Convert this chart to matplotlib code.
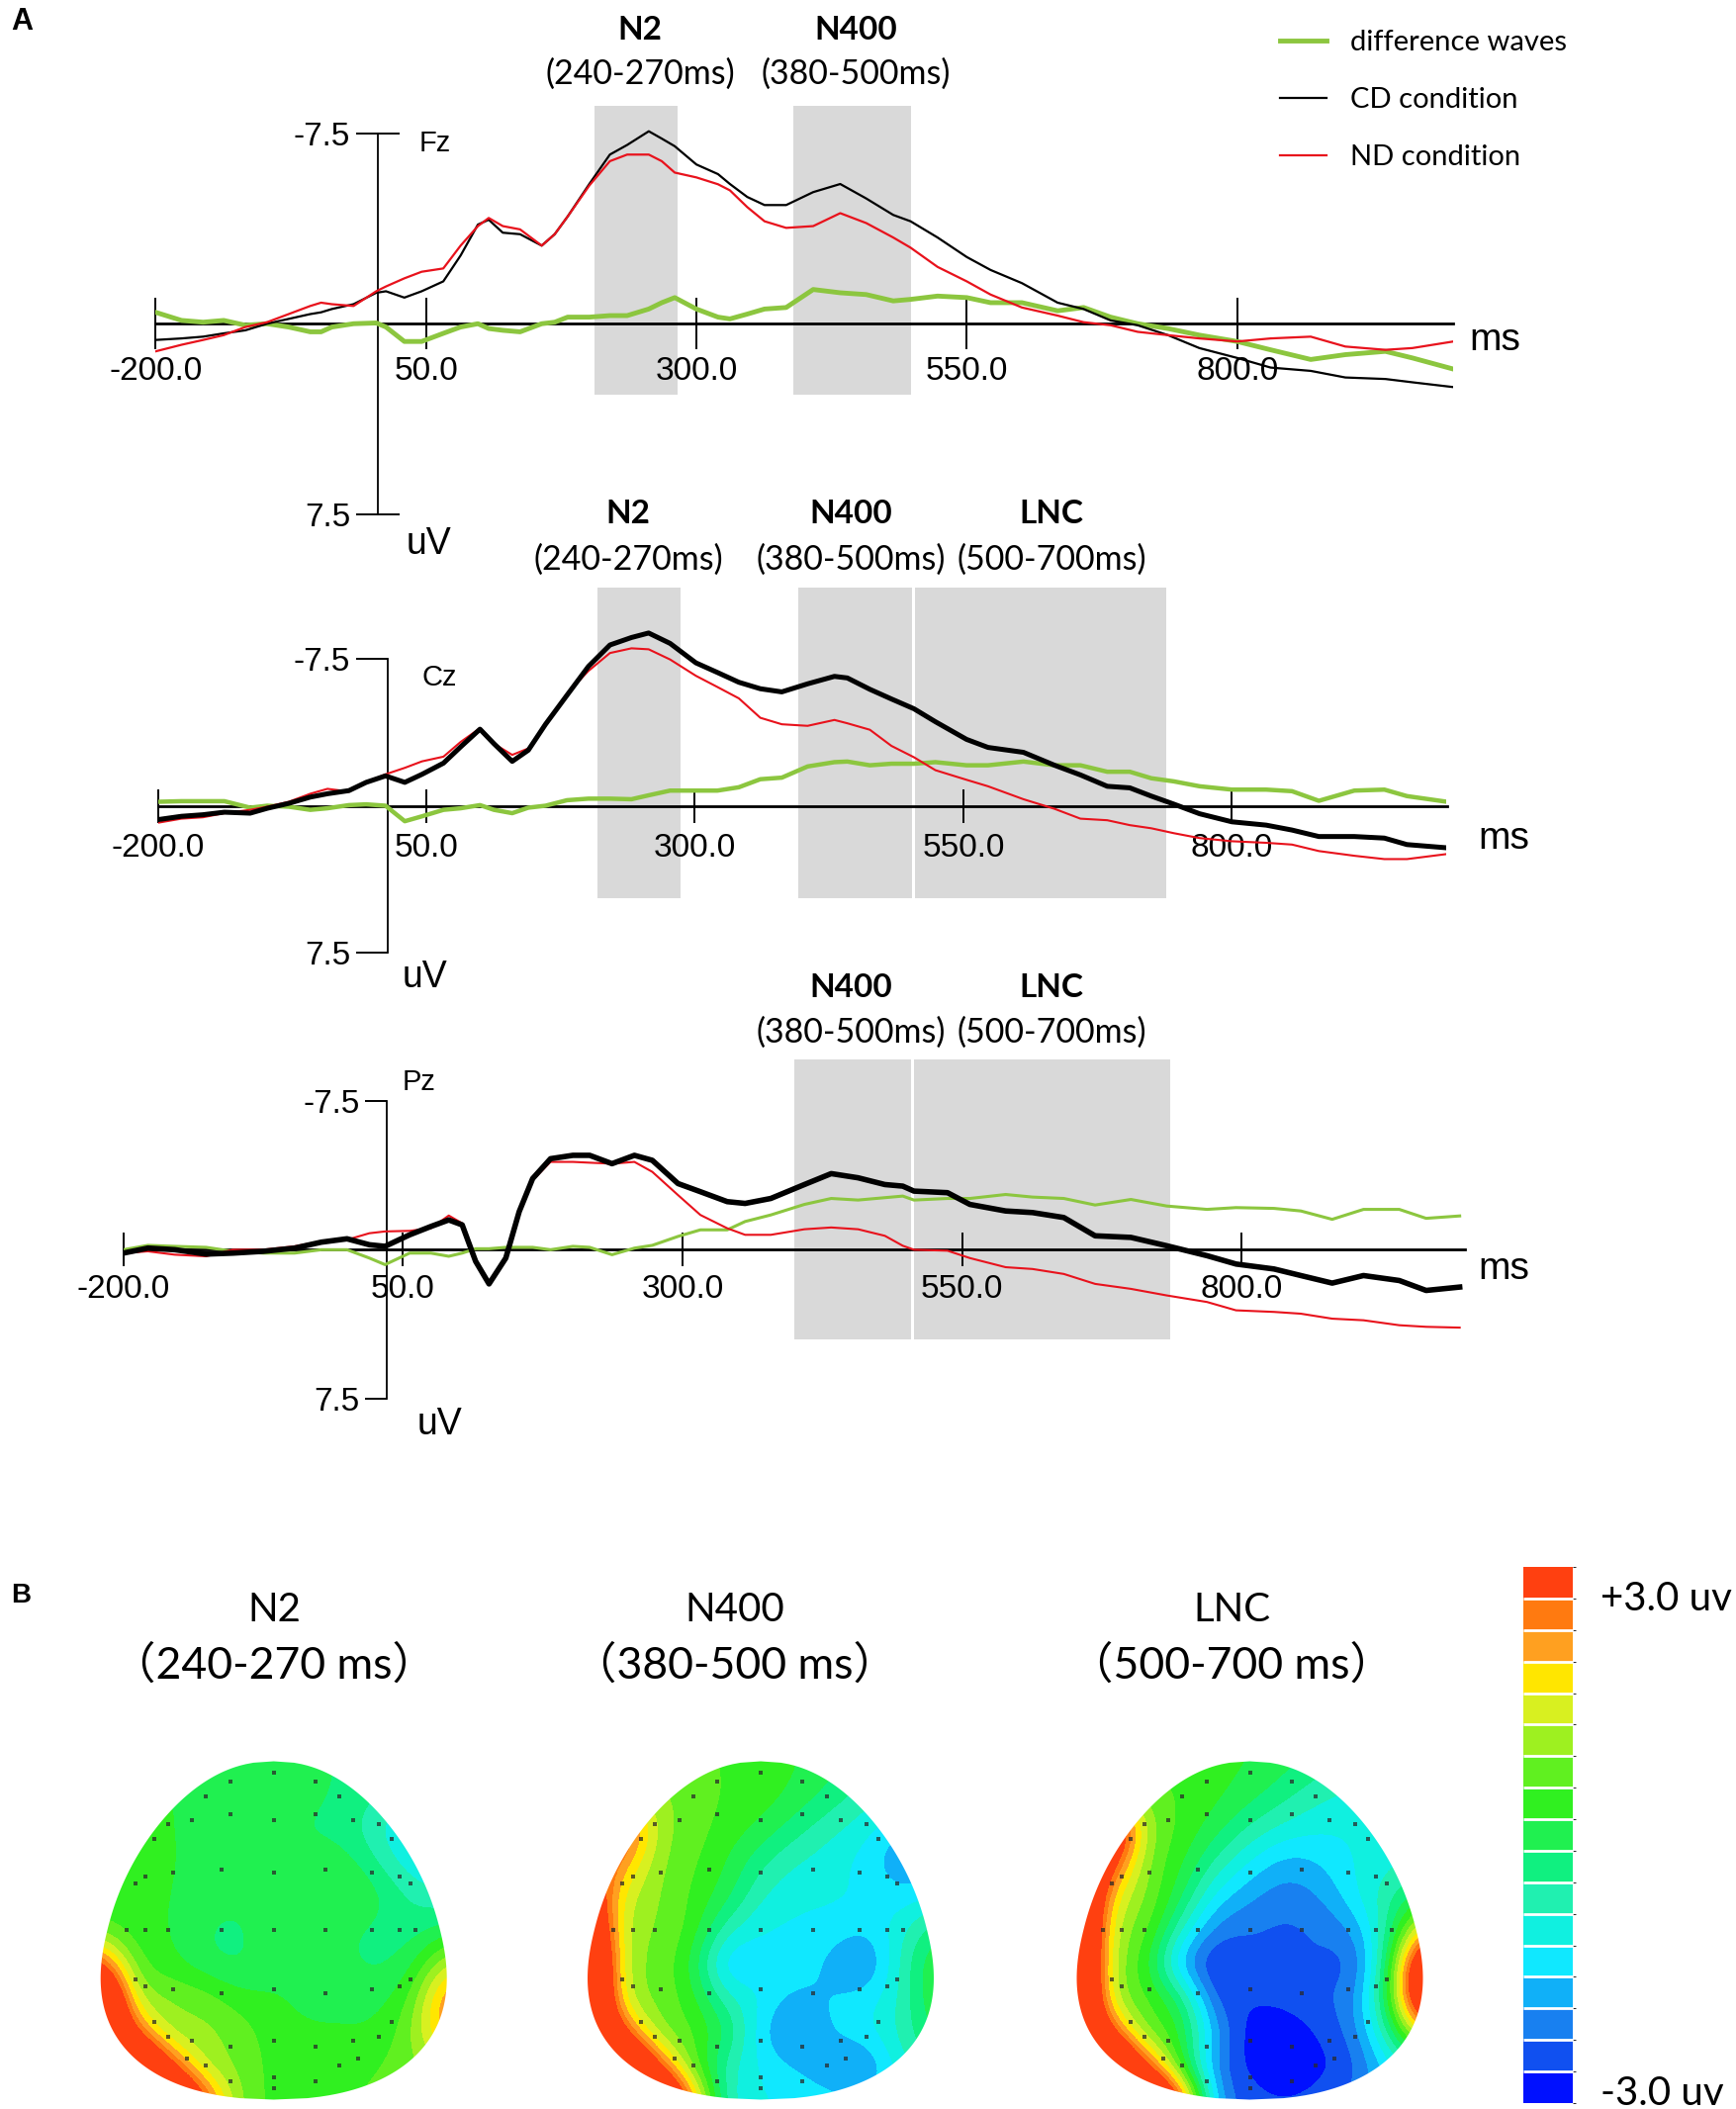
import numpy as np
import matplotlib
matplotlib.use('Agg')
import matplotlib.pyplot as plt
from matplotlib.colors import ListedColormap, BoundaryNorm
from matplotlib.patches import Polygon
from matplotlib.cm import ScalarMappable

# ---------------- data ----------------
# Fz (uV, negative up)
fz_t = [-200, -176, -156, -137, -117, -97, -77, -57, -47, -37, -17, 4, 13, 30, 46, 66, 82, 98, 108, 121,
        137, 157, 169, 181, 201, 220, 236, 256, 268, 280, 300, 320, 331, 347, 363, 383, 408, 433, 457, 482,
        498, 523, 550, 572, 601, 634, 658, 683, 708, 736, 765, 800, 831, 868, 900, 937, 962, 1000]
fz_cd = [0.64, 0.58, 0.51, 0.38, 0.26, 0.0, -0.19, -0.38, -0.45, -0.58, -0.77, -1.22, -1.28, -1.03, -1.28,
         -1.67, -2.69, -3.91, -4.1, -3.59, -3.53, -3.08, -3.53, -4.23, -5.51, -6.67, -7.05, -7.59, -7.3, -7.0,
         -6.28, -5.9, -5.51, -5.0, -4.68, -4.68, -5.19, -5.51, -4.94, -4.29, -4.04, -3.4, -2.63, -2.12, -1.6,
         -0.83, -0.58, -0.13, 0.06, 0.45, 0.96, 1.35, 1.73, 1.86, 2.12, 2.18, 2.31, 2.5]
fz_nd = [1.09, 0.83, 0.64, 0.45, 0.13, -0.06, -0.38, -0.7, -0.83, -0.77, -0.7, -1.28, -1.47, -1.79, -2.05,
         -2.18, -3.08, -3.85, -4.17, -3.85, -3.72, -3.08, -3.53, -4.23, -5.45, -6.41, -6.67, -6.67, -6.41, -5.96,
         -5.77, -5.5, -5.26, -4.6, -4.04, -3.78, -3.85, -4.36, -3.97, -3.4, -3.0, -2.24, -1.67, -1.15, -0.64,
         -0.32, -0.06, 0.06, 0.32, 0.45, 0.58, 0.7, 0.58, 0.51, 0.9, 1.03, 0.96, 0.7]
fz_diff = [-0.45, -0.13, -0.06, -0.13, 0.06, 0.0, 0.13, 0.32, 0.32, 0.13, 0.0, -0.03, 0.13, 0.7, 0.7, 0.38,
           0.13, 0.0, 0.19, 0.26, 0.32, 0.0, -0.06, -0.26, -0.26, -0.32, -0.32, -0.58, -0.83, -1.03, -0.58,
           -0.26, -0.19, -0.38, -0.58, -0.64, -1.35, -1.22, -1.15, -0.9, -0.96, -1.09, -1.03, -0.83, -0.83,
           -0.51, -0.64, -0.26, 0.0, 0.19, 0.45, 0.7, 1.03, 1.41, 1.22, 1.09, 1.35, 1.79]

# Cz
cz_t = [-200, -178, -158, -138, -114, -98, -78, -58, -42, -22, -6, 12, 30, 46, 66, 82, 100, 113, 130, 145,
        161, 181, 201, 221, 241, 257, 277, 301, 321, 341, 361, 381, 405, 430, 442, 463, 483, 504, 524, 553,
        573, 606, 635, 659, 684, 705, 725, 746, 770, 800, 832, 856, 881, 914, 942, 963, 999]
cz_cd = [0.71, 0.54, 0.46, 0.33, 0.38, 0.13, -0.12, -0.44, -0.61, -0.77, -1.19, -1.52, -1.19, -1.6, -2.17,
         -3.0, -3.9, -3.16, -2.26, -2.83, -4.15, -5.63, -7.1, -8.19, -8.57, -8.8, -8.27, -7.28, -6.79, -6.29,
         -5.96, -5.8, -6.21, -6.59, -6.51, -5.93, -5.44, -4.94, -4.28, -3.38, -2.97, -2.72, -2.06, -1.57,
         -0.99, -0.91, -0.49, -0.08, 0.41, 0.82, 0.99, 1.24, 1.57, 1.57, 1.65, 1.98, 2.14]
cz_nd = [0.87, 0.66, 0.59, 0.38, 0.21, 0.05, -0.2, -0.61, -0.86, -0.72, -1.19, -1.6, -1.93, -2.26, -2.5,
         -3.25, -3.95, -3.16, -2.59, -2.92, -4.15, -5.72, -6.87, -7.78, -8.02, -7.97, -7.45, -6.62, -6.05,
         -5.47, -4.48, -4.15, -4.07, -4.37, -4.2, -3.87, -3.05, -2.47, -1.81, -1.32, -0.99, -0.33, 0.16, 0.66,
         0.74, 0.99, 1.15, 1.4, 1.65, 1.81, 1.89, 1.98, 2.31, 2.55, 2.72, 2.72, 2.47]
cz_diff = [-0.2, -0.23, -0.23, -0.23, 0.1, 0.0, 0.05, 0.21, 0.13, -0.03, -0.07, 0.0, 0.79, 0.54, 0.21, 0.13,
           -0.03, 0.21, 0.38, 0.1, 0.0, -0.28, -0.36, -0.36, -0.33, -0.53, -0.77, -0.77, -0.77, -0.94, -1.35,
           -1.43, -2.0, -2.22, -2.25, -2.06, -2.14, -2.14, -2.22, -2.06, -2.06, -2.25, -2.06, -2.06, -1.73,
           -1.73, -1.4, -1.24, -0.99, -0.82, -0.82, -0.74, -0.25, -0.77, -0.82, -0.49, -0.21]

# Pz
pz_t = [-200, -178, -154, -126, -102, -75, -47, -23, 0, 20, 34, 56, 75, 91, 103, 115, 127, 142, 154, 166,
        182, 202, 217, 237, 257, 273, 296, 316, 340, 356, 379, 409, 433, 457, 481, 497, 507, 537, 557, 589,
        613, 641, 669, 701, 733, 769, 795, 829, 853, 881, 909, 941, 965, 995]
pz_cd = [0.17, -0.08, 0.0, 0.22, 0.17, 0.08, -0.08, -0.38, -0.55, -0.25, -0.17, -0.75, -1.17, -1.5, -1.25,
         0.58, 1.72, 0.42, -1.92, -3.58, -4.58, -4.75, -4.75, -4.33, -4.75, -4.5, -3.33, -2.92, -2.42, -2.33,
         -2.58, -3.28, -3.83, -3.62, -3.28, -3.2, -2.95, -2.87, -2.28, -1.95, -1.87, -1.62, -0.7, -0.62, -0.2,
         0.3, 0.72, 0.97, 1.3, 1.68, 1.3, 1.55, 2.05, 1.88]
pz_nd = [0.17, 0.08, 0.25, 0.33, 0.0, 0.0, -0.17, -0.42, -0.5, -0.83, -0.92, -0.95, -1.08, -1.72, -1.33,
         0.58, 1.72, 0.42, -1.92, -3.5, -4.42, -4.42, -4.38, -4.33, -4.42, -3.92, -2.75, -1.75, -1.08, -0.75,
         -0.75, -1.03, -1.12, -1.03, -0.7, -0.2, 0.0, 0.05, 0.42, 0.88, 0.97, 1.22, 1.72, 1.97, 2.3, 2.63,
         3.05, 3.13, 3.22, 3.47, 3.55, 3.8, 3.88, 3.92]
pz_diff = [0.0, -0.22, -0.17, -0.12, 0.08, 0.17, 0.17, 0.0, 0.0, 0.42, 0.75, 0.17, 0.17, 0.33, 0.17, -0.05,
           -0.05, -0.12, -0.12, -0.12, 0.0, -0.17, -0.12, 0.25, -0.08, -0.22, -0.67, -1.0, -1.0, -1.42, -1.75,
           -2.28, -2.58, -2.5, -2.62, -2.7, -2.5, -2.58, -2.58, -2.78, -2.65, -2.58, -2.25, -2.53, -2.2, -2.03,
           -2.12, -2.08, -1.95, -1.53, -2.03, -2.03, -1.58, -1.7]

# analysis windows (ms) shaded in grey
fz_win_start = [206, 390]
fz_win_end = [283, 498]
cz_win_start = [209, 396, 505]
cz_win_end = [287, 502, 739]
pz_win_start = [400, 507]
pz_win_end = [504, 736]

fz_comp = ['N2', 'N400']
fz_range = ['(240-270ms)', '(380-500ms)']
cz_comp = ['N2', 'N400', 'LNC']
cz_range = ['(240-270ms)', '(380-500ms)', '(500-700ms)']
pz_comp = ['N400', 'LNC']
pz_range = ['(380-500ms)', '(500-700ms)']

x_ticks = [-200, 50, 300, 550, 800]
legend_labels = ['difference waves', 'CD condition', 'ND condition']

# topographic maps: 11x11 grid (step 0.2), rows front -> back, columns left -> right (uV)
# values beyond +-3 mark the saturated rim of the scale
map_titles = ['N2', 'N400', 'LNC']
map_ranges = ['\uff08240-270 ms\uff09', '\uff08380-500 ms\uff09', '\uff08500-700 ms\uff09']
n2_map = [[0.1, 0.1, 0.1, 0.1, 0.1, 0.0, -0.1, -0.2, -0.3, -0.4, -0.5],
          [0.2, 0.2, 0.2, 0.1, 0.0, 0.0, -0.1, -0.2, -0.5, -0.8, -1.0],
          [0.2, 0.2, 0.2, 0.1, -0.2, -0.1, -0.2, -0.3, -0.9, -1.4, -1.5],
          [0.3, 0.3, 0.2, 0.1, -0.2, -0.1, -0.1, 0.1, -0.5, -1.2, -1.4],
          [0.3, 0.3, 0.2, 0.0, -0.1, 0.0, 0.0, 0.3, 0.0, -0.6, -0.8],
          [0.6, 0.3, 0.2, -0.2, -0.3, 0.1, 0.1, -0.1, -0.3, -0.4, 0.0],
          [3.2, 0.5, 0.3, -0.1, -0.3, 0.1, 0.1, -0.1, -0.3, 0.0, 1.4],
          [6.0, 1.0, 0.9, 0.8, 0.3, 0.2, 0.1, 0.1, 0.0, 0.5, 2.6],
          [6.0, 2.6, 0.9, 1.0, 0.8, 0.3, 0.2, 0.2, 0.2, 0.8, 2.5],
          [6.0, 6.0, 2.9, 1.0, 0.8, 0.4, 0.3, 0.4, 0.5, 0.8, 1.0],
          [6.0, 6.0, 6.0, 3.0, 0.8, 0.4, 0.4, 0.5, 0.6, 0.8, 1.0]]
n400_map = [[0.8, 0.8, 0.7, 0.6, 0.5, 0.4, 0.2, 0.0, -0.3, -0.6, -0.8],
            [1.2, 1.1, 1.0, 0.7, 0.5, 0.4, 0.1, -0.3, -0.7, -1.0, -1.2],
            [3.5, 3.5, 1.0, 0.7, 0.4, 0.1, -0.4, -0.8, -1.1, -1.6, -1.8],
            [3.5, 2.2, 0.9, 0.6, 0.2, -0.5, -0.9, -1.1, -1.4, -2.0, -2.0],
            [4.0, 1.3, 0.9, 0.5, 0.0, -0.9, -1.2, -1.2, -1.2, -1.5, -1.2],
            [5.0, 1.0, 0.9, 0.5, -0.8, -1.3, -1.3, -1.3, -1.6, -1.0, -0.2],
            [6.0, 1.0, 0.8, 0.2, -1.9, -1.4, -1.2, -1.8, -2.3, -0.8, 0.3],
            [6.0, 1.0, 0.8, 0.4, -0.8, -1.2, -1.8, -1.5, -1.4, -0.9, 0.3],
            [6.0, 2.8, 0.8, 0.6, 0.0, -1.6, -2.3, -1.5, -1.3, -0.8, 0.0],
            [6.0, 6.0, 2.8, 0.6, -0.8, -1.3, -1.6, -2.0, -2.2, -1.0, -0.5],
            [6.0, 6.0, 6.0, 2.5, -1.0, -1.2, -1.3, -1.4, -1.5, -1.2, -1.0]]
lnc_map = [[0.6, 0.6, 0.5, 0.4, 0.3, 0.2, 0.0, -0.3, -0.6, -0.8, -0.9],
           [1.0, 0.9, 0.7, 0.5, 0.3, 0.0, -0.4, -0.8, -1.0, -1.0, -1.0],
           [5.0, 5.0, 0.9, 0.5, 0.0, -0.6, -1.0, -1.2, -1.2, -1.1, -1.0],
           [6.0, 3.0, 0.8, 0.3, -0.6, -1.3, -1.8, -1.6, -1.2, -1.0, -0.8],
           [6.0, 1.5, 0.9, 0.0, -1.4, -1.9, -2.2, -2.0, -1.3, -0.6, 0.0],
           [6.0, 1.0, 0.8, -0.8, -2.2, -2.3, -2.4, -2.3, -2.0, -0.6, 2.0],
           [6.0, 0.9, 0.5, -2.0, -2.9, -2.4, -2.3, -2.3, -2.6, -0.3, 5.0],
           [6.0, 0.9, 0.6, 0.0, -2.6, -2.6, -2.5, -2.3, -2.2, 0.0, 5.0],
           [6.0, 2.8, 0.6, 0.4, -1.8, -2.9, -3.0, -2.6, -2.2, -0.6, 2.0],
           [6.0, 6.0, 2.8, 0.3, -2.2, -2.8, -3.0, -2.8, -2.5, -1.4, -0.8],
           [6.0, 6.0, 6.0, 3.5, -2.0, -2.5, -2.6, -2.5, -2.2, -1.6, -1.2]]

# electrode sites (head coordinates, x right, y front)
elec_u = [0, -0.25, 0.24, -0.39, 0.38, -0.25, 0.24, -0.61, -0.47, 0, 0.46, 0.61, -0.69, 0.68,
          -0.30, 0, 0.30, -0.74, -0.58, 0.57, 0.73, -0.80, 0.79,
          -0.85, -0.74, -0.61, -0.30, 0, 0.30, 0.57, 0.73, 0.82,
          -0.80, 0.79, -0.74, -0.58, -0.30, 0, 0.30, 0.57, 0.73, -0.69, 0.68,
          -0.61, -0.47, 0, 0.46, 0.61, -0.25, 0.24, -0.50, 0.49, -0.39, 0.38, -0.25, 0.24, 0, 0]
elec_v = [0.93, 0.88, 0.88, 0.79, 0.79, 0.69, 0.69, 0.63, 0.65, 0.65, 0.65, 0.63, 0.54, 0.54,
          0.36, 0.34, 0.36, 0.32, 0.34, 0.34, 0.32, 0.28, 0.28,
          0, 0, 0, 0, 0, 0, 0, 0, 0,
          -0.29, -0.29, -0.33, -0.35, -0.37, -0.35, -0.37, -0.35, -0.33, -0.54, -0.54,
          -0.63, -0.65, -0.65, -0.65, -0.63, -0.69, -0.69, -0.76, -0.76, -0.80, -0.80, -0.89, -0.89, -0.87, -0.93]

# colour scale, bottom (-3 uV) to top (+3 uV)
scale_colors = ['#0010FF', '#1050F0', '#1880F0', '#10B0F8', '#10E8FF', '#10F0E0', '#20F0B0', '#10F080',
                '#20F050', '#30F020', '#60F020', '#9EF020', '#D8F020', '#FFE600', '#FFA020', '#FF7A10',
                '#FF4010']

# ---------------- figure ----------------
W, H = 1755, 2132
fig = plt.figure(figsize=(W / 100, H / 100), dpi=100)


def fx(px):
    return px / W


def fy(py):
    return 1 - py / H


TICKFONT = 'Liberation Sans'
LABFONT = 'Lato'
GREEN = '#8CC63F'
RED = '#E8121C'


def erp_panel(x0, x1, y_neg, y_pos, yaxis_ms, xtick_len, xtick_pad, ytick_dir, ytick_len):
    # x0/x1: pixel columns of -200 and 1000 ms, y_neg/y_pos: pixel rows of -7.5 / +7.5 uV
    ppu = (y_pos - y_neg) / 15.0
    zero = (y_pos + y_neg) / 2.0
    top_px = zero - 12 * ppu
    bot_px = zero + 9 * ppu
    ax = fig.add_axes([fx(x0), fy(bot_px), (x1 - x0) / W, (bot_px - top_px) / H])
    ax.set_xlim(-200, 1000)
    ax.set_ylim(9, -12)
    ax.patch.set_visible(False)
    for s in ['top', 'right']:
        ax.spines[s].set_visible(False)
    ax.spines['bottom'].set_position(('data', 0))
    ax.spines['bottom'].set_bounds(-200, 1000)
    ax.spines['bottom'].set_linewidth(2.0)
    ax.spines['left'].set_position(('data', yaxis_ms))
    ax.spines['left'].set_bounds(-7.5, 7.5)
    ax.spines['left'].set_linewidth(1.3)
    ax.set_xticks(x_ticks)
    ax.set_xticklabels(['%.1f' % v for v in x_ticks])
    ax.set_yticks([-7.5, 7.5])
    ax.set_yticklabels(['-7.5', '7.5'])
    ax.tick_params(axis='x', direction='inout', length=xtick_len, width=1.4, pad=xtick_pad,
                   labelsize=24, labelfontfamily=TICKFONT)
    ax.tick_params(axis='y', direction=ytick_dir, length=ytick_len, width=1.4, pad=4,
                   labelsize=24, labelfontfamily=TICKFONT)
    return ax


def shade(ax, starts, ends, top, bottom):
    for a, b in zip(starts, ends):
        ax.fill_betweenx([top, bottom], a, b, color='#D9D9D9', linewidth=0, zorder=0)


# --- Fz ---
ax1 = erp_panel(157.3, 1469.4, 135, 519.5, 5.5, 37, 5, 'inout', 32)
shade(ax1, fz_win_start, fz_win_end, -8.6, 2.8)
g1, = ax1.plot(fz_t, fz_diff, color=GREEN, lw=3.5, zorder=3)
k1, = ax1.plot(fz_t, fz_cd, color='black', lw=1.6, zorder=4)
r1, = ax1.plot(fz_t, fz_nd, color=RED, lw=1.6, zorder=4)

# --- Cz ---
ax2 = erp_panel(159.5, 1462.5, 665.7, 963.3, 13.7, 25, 7, 'out', 23)
shade(ax2, cz_win_start, cz_win_end, -11.1, 4.7)
ax2.plot(cz_t, cz_diff, color=GREEN, lw=3.2, zorder=3)
ax2.plot(cz_t, cz_nd, color=RED, lw=1.5, zorder=4)
ax2.plot(cz_t, cz_cd, color='black', lw=3.6, zorder=5)

# --- Pz ---
ax3 = erp_panel(124.7, 1481.3, 1112.7, 1414, 35.8, 25, 5, 'out', 16)
shade(ax3, pz_win_start, pz_win_end, -9.6, 4.5)
ax3.plot(pz_t, pz_diff, color=GREEN, lw=2.2, zorder=3)
ax3.plot(pz_t, pz_nd, color=RED, lw=1.5, zorder=4)
ax3.plot(pz_t, pz_cd, color='black', lw=4.0, zorder=5)

# axis annotations
for name, (cx, cy) in zip(['Fz', 'Cz', 'Pz'], [(424, 152.6), (427, 693), (407, 1102)]):
    fig.text(fx(cx), fy(cy), name, fontsize=21, family=TICKFONT, va='baseline')
for (cx, cy) in [(411, 560), (407, 998), (422, 1450)]:
    fig.text(fx(cx), fy(cy), 'uV', fontsize=27, family=TICKFONT, va='baseline')
for (cx, cy) in [(1485, 354), (1494, 858), (1494, 1293)]:
    fig.text(fx(cx), fy(cy), 'ms', fontsize=28, family=TICKFONT, va='baseline')

# component labels above the windows
for comps, ranges, xs, base, mid in [(fz_comp, fz_range, [647, 865], 39.5, 75),
                                     (cz_comp, cz_range, [635, 860, 1063], 529, 566),
                                     (pz_comp, pz_range, [860, 1063], 1008, 1044)]:
    for c, r, x in zip(comps, ranges, xs):
        fig.text(fx(x), fy(base), c, fontsize=24, fontweight='bold', family=LABFONT,
                 ha='center', va='baseline')
        fig.text(fx(x), fy(mid), r, fontsize=24.5, family=LABFONT, ha='center', va='center')

fig.legend(handles=[g1, k1, r1], labels=legend_labels, loc='upper left',
           bbox_to_anchor=(fx(1294), fy(30)), frameon=False, borderpad=0, borderaxespad=0,
           handlelength=1.6, handletextpad=0.85, labelspacing=1.1,
           prop={'family': LABFONT, 'size': 21})

fig.text(fx(11), fy(30.5), 'A', fontsize=22, fontweight='bold', family=TICKFONT, va='baseline')
fig.text(fx(11), fy(1620.5), 'B', fontsize=20, fontweight='bold', family=TICKFONT, va='baseline')

# ---------------- topographic maps ----------------
levels = np.linspace(-3, 3, len(scale_colors) + 1)
cmap = ListedColormap(scale_colors)
norm = BoundaryNorm(levels, cmap.N)


def head_outline(n=240):
    v = np.linspace(-1, 1, n)
    w = (1 - np.abs(v) ** 2.2) ** (1 / 2.2) * (1 - 0.25 * v) / 1.04
    right = np.column_stack([w, v])
    left = np.column_stack([-w[::-1], v[::-1]])
    return np.concatenate([right, left])


head_cx = [276.7, 769, 1263.5]
head_cy = 1951.5
hw, hh = 175, 171
title_x = [277, 743, 1245]

for i, grid in enumerate([n2_map, n400_map, lnc_map]):
    cx = head_cx[i]
    axh = fig.add_axes([fx(cx - 1.1 * hw), fy(head_cy + 1.1 * hh), 2.2 * hw / W, 2.2 * hh / H])
    im = axh.imshow(np.array(grid), extent=(-1.1, 1.1, -1.1, 1.1), origin='upper',
                    cmap=cmap, norm=norm, interpolation='bicubic', aspect='auto')
    outline = Polygon(head_outline(), closed=True, facecolor='none', edgecolor='none',
                      transform=axh.transData)
    axh.add_patch(outline)
    im.set_clip_path(outline)
    axh.scatter(elec_u, elec_v, s=9, marker='s', c='#2a2a2a', linewidths=0, alpha=0.75, zorder=3)
    axh.set_xlim(-1.1, 1.1)
    axh.set_ylim(-1.1, 1.1)
    axh.axis('off')

    fig.text(fx(title_x[i]), fy(1639), map_titles[i], fontsize=29, family=LABFONT,
             ha='center', va='baseline')
    fig.text(fx(title_x[i]), fy(1684), map_ranges[i], fontsize=32,
             family=[LABFONT, 'Noto Sans CJK SC'], ha='center', va='center')

cax = fig.add_axes([fx(1540), fy(2126), 50 / W, (2126 - 1584) / H])
cb = fig.colorbar(ScalarMappable(norm=norm, cmap=cmap), cax=cax, drawedges=True, ticks=[])
cb.outline.set_visible(False)
cb.dividers.set_color('white')
cb.dividers.set_linewidth(2)

fig.text(fx(1618), fy(1628), '+3.0 uv', fontsize=29, family=LABFONT, va='baseline')
fig.text(fx(1618), fy(2128), '-3.0 uv', fontsize=29, family=LABFONT, va='baseline')

fig.savefig('out.png', dpi=100)
